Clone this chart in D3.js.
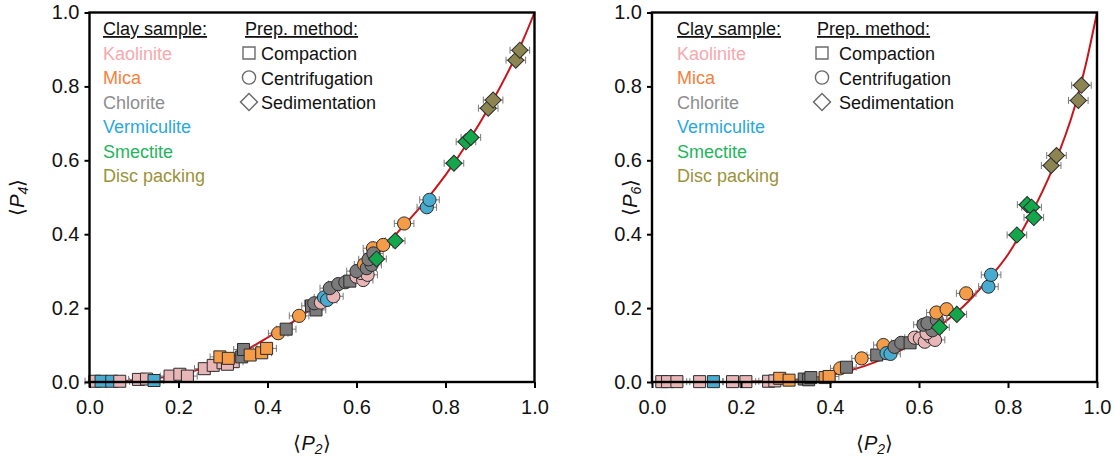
<!DOCTYPE html>
<html><head><meta charset="utf-8">
<script src="https://cdn.jsdelivr.net/npm/d3@7"></script>
<style>
html,body{margin:0;padding:0;background:#fff;}
svg{display:block;}
</style></head>
<body>
<svg id="chart" width="1116" height="456"></svg>
<script>
// ---------- data ----------
const clayTypes = ["Kaolinite","Mica","Chlorite","Vermiculite","Smectite","Disc packing"];
const clayText  = ["#f7a9ae","#f5813c","#8e8e8e","#29a8df","#22b55c","#9b9339"];
const clayFill  = ["#e9b6b8","#f59c48","#7b7b7b","#48acd0","#13a64b","#8c8552"];
const prepMethods = ["Compaction","Centrifugation","Sedimentation"];
const xTicks = [0.0,0.2,0.4,0.6,0.8,1.0];
const yTicks = [0.0,0.2,0.4,0.6,0.8,1.0];

// theoretical curves
const curveP2 = [0,0.05,0.1,0.15,0.2,0.25,0.3,0.35,0.4,0.45,0.5,0.55,0.6,0.65,0.7,0.75,0.8,0.85,0.9,0.95,0.975,1];
const curveP4 = [0,0.001,0.004,0.01,0.02,0.035,0.055,0.085,0.12,0.157,0.2,0.245,0.295,0.35,0.415,0.483,0.56,0.648,0.748,0.862,0.927,1];
const curveP6 = [0,0,0,0,0.001,0.002,0.004,0.009,0.018,0.033,0.053,0.08,0.113,0.155,0.205,0.27,0.345,0.45,0.577,0.745,0.86,1];

// points: [clay index, method index, <P2>, <Pn>]
const pointsP4 = [
  [0,0,0.012,0.002],[3,0,0.026,0.002],[3,0,0.05,0.002],[0,0,0.068,0.002],
  [0,0,0.11,0.007],[0,0,0.128,0.008],[3,0,0.145,0.004],
  [0,0,0.181,0.016],[0,0,0.203,0.021],[0,0,0.22,0.016],
  [0,0,0.258,0.036],[0,0,0.278,0.045],[0,0,0.3,0.052],[0,0,0.323,0.055],[0,0,0.31,0.048],
  [1,0,0.293,0.068],[1,0,0.312,0.064],[2,0,0.342,0.068],[2,0,0.346,0.088],[1,0,0.361,0.073],
  [1,0,0.387,0.079],[1,0,0.398,0.091],
  [1,1,0.424,0.132],[2,0,0.442,0.143],[1,1,0.471,0.179],[2,0,0.499,0.206],[2,0,0.509,0.195],
  [2,1,0.505,0.213],[0,1,0.52,0.215],[3,1,0.527,0.229],[3,1,0.534,0.222],[0,1,0.548,0.232],
  [2,1,0.54,0.254],[2,1,0.559,0.265],[2,1,0.575,0.27],[2,0,0.585,0.273],
  [0,1,0.6,0.285],[0,1,0.615,0.276],[0,1,0.61,0.295],[0,1,0.625,0.29],[0,1,0.62,0.31],
  [2,1,0.6,0.3],[1,1,0.617,0.318],[2,1,0.623,0.308],[2,1,0.634,0.317],[2,1,0.627,0.332],
  [1,1,0.637,0.362],[2,1,0.638,0.348],[4,2,0.645,0.333],[1,1,0.66,0.371],[4,2,0.687,0.382],
  [1,1,0.707,0.429],[3,1,0.758,0.473],[3,1,0.764,0.493],
  [4,2,0.819,0.592],[4,2,0.846,0.65],[4,2,0.857,0.662],
  [5,2,0.896,0.741],[5,2,0.907,0.763],[5,2,0.958,0.871],[5,2,0.967,0.898]
];
const pointsP6 = [
  [0,0,0.022,0.001],[0,0,0.035,0.001],[0,0,0.056,0.001],[0,0,0.107,0.001],[3,0,0.138,0.001],
  [0,0,0.181,0.001],[0,0,0.211,0.001],[0,0,0.262,0.002],[0,0,0.276,0.003],
  [1,0,0.287,0.01],[1,0,0.308,0.005],[2,0,0.342,0.008],[2,0,0.352,0.006],[2,0,0.357,0.012],
  [1,0,0.389,0.012],[1,0,0.398,0.015],
  [1,1,0.423,0.037],[2,0,0.437,0.04],[1,1,0.471,0.064],[2,0,0.505,0.073],[1,1,0.52,0.1],
  [3,1,0.527,0.078],[3,1,0.536,0.076],[2,1,0.545,0.095],[2,1,0.56,0.106],[2,0,0.58,0.106],
  [0,1,0.59,0.12],[0,1,0.602,0.118],[0,1,0.613,0.109],[0,1,0.625,0.123],[0,1,0.636,0.114],[0,1,0.617,0.132],
  [2,1,0.61,0.155],[2,1,0.63,0.14],[2,1,0.619,0.159],[2,1,0.64,0.168],
  [1,1,0.639,0.188],[1,1,0.662,0.197],[4,2,0.646,0.148],[4,2,0.685,0.183],
  [1,1,0.706,0.24],[3,1,0.756,0.258],[3,1,0.762,0.29],
  [4,2,0.82,0.398],[4,2,0.843,0.48],[4,2,0.853,0.473],[4,2,0.858,0.445],
  [5,2,0.897,0.586],[5,2,0.909,0.613],[5,2,0.958,0.762],[5,2,0.965,0.803]
];
const XERR = 0.022, YERR = 0.012;

// ---------- layout ----------
const FONT = "'Liberation Sans', Arial, Helvetica, sans-serif";
const svg = d3.select("#chart");
const top0 = 12.5, bottom0 = 382, W = 445;

const panels = [
  {x0:89.5, curve:curveP4, pts:pointsP4, sub:"4", clayX:103, prepX:245, symX:249, txtX:261, titleX:24},
  {x0:652,  curve:curveP6, pts:pointsP6, sub:"6", clayX:677, prepX:817, symX:822, txtX:839, titleX:637}
];

function markerPath(m){
  if(m===0) return d3.symbol(d3.symbolSquare, 144)();
  if(m===1) return d3.symbol(d3.symbolCircle, Math.PI*6.6*6.6)();
  return d3.symbol(d3.symbolSquare, 130)();
}

panels.forEach(p=>{
  const x = d3.scaleLinear().domain([0,1]).range([p.x0, p.x0+W]);
  const y = d3.scaleLinear().domain([0,1]).range([bottom0, top0]);
  const g = svg.append("g");

  // curve
  const line = d3.line().x((d,i)=>x(curveP2[i])).y(d=>y(d)).curve(d3.curveMonotoneX);
  g.append("path").attr("d", line(p.curve)).attr("fill","none")
    .attr("stroke","#c8161d").attr("stroke-width",2);

  // error bars
  const eb = g.append("g").attr("stroke","#7a7a7a").attr("stroke-width",1).attr("fill","none");
  p.pts.forEach(d=>{
    const cx=x(d[2]), cy=y(d[3]);
    const xl=x(d[2]-XERR), xr=x(d[2]+XERR), yt=y(d[3]+YERR), yb=y(d[3]-YERR);
    eb.append("line").attr("x1",xl).attr("x2",xr).attr("y1",cy).attr("y2",cy);
    eb.append("line").attr("x1",xl).attr("x2",xl).attr("y1",cy-3.5).attr("y2",cy+3.5);
    eb.append("line").attr("x1",xr).attr("x2",xr).attr("y1",cy-3.5).attr("y2",cy+3.5);
    eb.append("line").attr("x1",cx).attr("x2",cx).attr("y1",yt).attr("y2",yb);
    eb.append("line").attr("x1",cx-3.5).attr("x2",cx+3.5).attr("y1",yt).attr("y2",yt);
    eb.append("line").attr("x1",cx-3.5).attr("x2",cx+3.5).attr("y1",yb).attr("y2",yb);
  });

  // markers
  g.append("g").selectAll("path").data(p.pts).join("path")
    .attr("d", d=>markerPath(d[1]))
    .attr("transform", d=>`translate(${x(d[2])},${y(d[3])})` + (d[1]===2?" rotate(45)":""))
    .attr("fill", d=>clayFill[d[0]])
    .attr("stroke","#2b2b2b").attr("stroke-width",1);

  // axes
  const xa = g.append("g").attr("transform",`translate(0,${bottom0})`)
    .call(d3.axisBottom(x).tickValues(xTicks).tickFormat(d3.format(".1f")).tickSize(6).tickPadding(12).tickSizeOuter(0));
  const ya = g.append("g").attr("transform",`translate(${p.x0},0)`)
    .call(d3.axisLeft(y).tickValues(yTicks).tickFormat(d3.format(".1f")).tickSize(5).tickPadding(5).tickSizeOuter(0));
  [xa,ya].forEach(a=>{
    a.select(".domain").remove();
    a.selectAll("line").attr("stroke","#000").attr("stroke-width",2);
    a.selectAll("text").attr("font-family",FONT).attr("font-size",20).attr("fill","#111");
  });
  // frame
  g.append("rect").attr("x",p.x0).attr("y",top0).attr("width",W).attr("height",bottom0-top0)
    .attr("fill","none").attr("stroke","#000").attr("stroke-width",2.4);

  // axis titles
  const xt = g.append("text").attr("x", p.x0+W/2).attr("y",450).attr("text-anchor","middle")
    .attr("font-family",FONT).attr("font-size",20).attr("fill","#111");
  xt.append("tspan").text("⟨");
  xt.append("tspan").attr("font-style","italic").text("P");
  xt.append("tspan").attr("font-style","italic").attr("font-size",14).attr("dy",4).text("2");
  xt.append("tspan").attr("dy",-4).text("⟩");

  const yt = g.append("text").attr("transform",`translate(${p.titleX},${(top0+bottom0)/2}) rotate(-90)`)
    .attr("text-anchor","middle").attr("font-family",FONT).attr("font-size",20).attr("fill","#111");
  yt.append("tspan").text("⟨");
  yt.append("tspan").attr("font-style","italic").text("P");
  yt.append("tspan").attr("font-style","italic").attr("font-size",14).attr("dy",4).text(p.sub);
  yt.append("tspan").attr("dy",-4).text("⟩");

  // legend: clay samples
  const lg = g.append("g").attr("font-family",FONT).attr("font-size",18);
  lg.append("text").attr("x",p.clayX).attr("y",35).attr("fill","#111")
    .attr("text-decoration","underline").text("Clay sample:");
  lg.selectAll("text.clay").data(clayTypes).join("text").attr("class","clay")
    .attr("x",p.clayX).attr("y",(d,i)=>60+i*24.4).attr("fill",(d,i)=>clayText[i]).text(d=>d);
  // legend: prep methods
  lg.append("text").attr("x",p.prepX).attr("y",35).attr("fill","#111")
    .attr("text-decoration","underline").text("Prep. method:");
  prepMethods.forEach((m,i)=>{
    const cy = 53+i*24.5;
    lg.append("path").attr("d",markerPath(i))
      .attr("transform",`translate(${p.symX},${cy})`+(i===2?" scale(1.05) rotate(45)":""))
      .attr("fill","none").attr("stroke","#6b6b6b").attr("stroke-width",1.4);
    lg.append("text").attr("x",p.txtX).attr("y",60+i*24.5).attr("fill","#111").text(m);
  });
});
</script>
</body></html>
